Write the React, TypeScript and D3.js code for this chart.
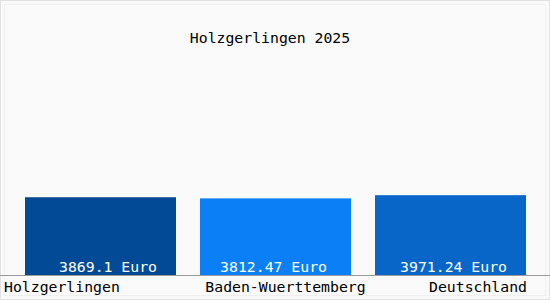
import React from "react";
import * as d3 from "d3";

const title = "Holzgerlingen 2025";
const categories = ["Holzgerlingen", "Baden-Wuerttemberg", "Deutschland"];
const values = [3869.1, 3812.47, 3971.24];
const valueLabels = ["3869.1 Euro", "3812.47 Euro", "3971.24 Euro"];
const colors = ["#034a96", "#0b7ff6", "#0866c9"];

const W = 550;
const H = 300;
const FONT = "'DejaVu Sans Mono', monospace";

export default function App() {
  const x = d3.scaleBand<string>().domain(categories).range([25, 526]).paddingInner(24 / 175).paddingOuter(0);
  const y = d3.scaleLinear().domain([0, 10000]).range([275, 74]);
  const bw = x.bandwidth();
  const valueOffsets = [19, 24, 19];

  const catLabelPos = (c: string, i: number): [number, "start" | "middle" | "end"] => {
    const x0 = x(c)!;
    if (i === 0) return [x0 - 21, "start"];
    if (i === categories.length - 1) return [x0 + bw + 1, "end"];
    return [x0 + bw / 2 + 10, "middle"];
  };

  return (
    <svg width={W} height={H} style={{ position: "fixed", left: 0, top: 0, display: "block" }}>
      <rect x={0} y={0} width={W} height={H} fill="#fafafa" />
      <rect x={0.5} y={0.5} width={W - 1} height={H - 1} fill="none" stroke="#e2e2e2" />
      <rect x={4.5} y={4.5} width={W - 9} height={H - 9} fill="none" stroke="#efefef" />
      <text x={270} y={43} textAnchor="middle" fontFamily={FONT} fontSize={14.8} fill="#000">
        {title}
      </text>
      {categories.map((c, i) => (
        <rect key={c} x={x(c)} y={y(values[i])} width={bw} height={y(0) - y(values[i])} fill={colors[i]} />
      ))}
      {categories.map((c, i) => (
        <text
          key={c + "v"}
          x={x(c)! + bw - valueOffsets[i]}
          y={272}
          textAnchor="end"
          fontFamily={FONT}
          fontSize={14.8}
          fill="#fff"
        >
          {valueLabels[i]}
        </text>
      ))}
      <line x1={0} x2={W} y1={275.5} y2={275.5} stroke="#9a9a9a" />
      {categories.map((c, i) => {
        const [lx, anchor] = catLabelPos(c, i);
        return (
          <text key={c + "l"} x={lx} y={292} textAnchor={anchor} fontFamily={FONT} fontSize={14.8} fill="#000">
            {c}
          </text>
        );
      })}
    </svg>
  );
}
